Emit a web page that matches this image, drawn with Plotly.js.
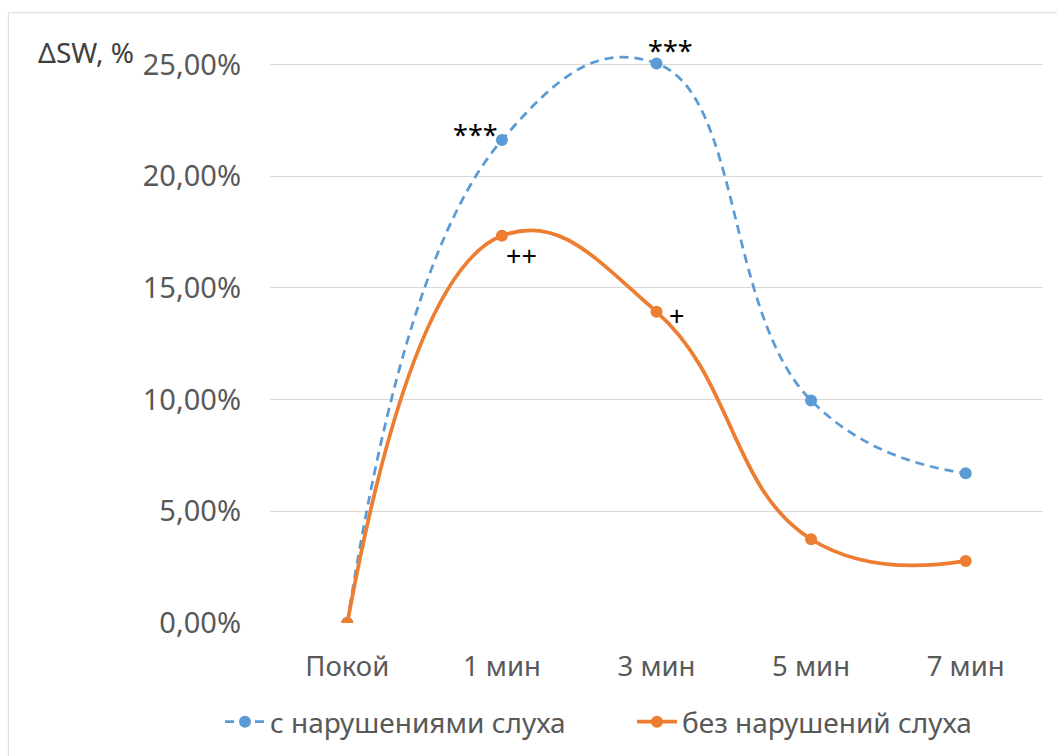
<!DOCTYPE html>
<html>
<head>
<meta charset="utf-8">
<script src="https://cdn.plot.ly/plotly-3.0.1.min.js"></script>
<style>
  html, body { margin: 0; padding: 0; background: #ffffff; }
  #chart { width: 1057px; height: 756px; }
</style>
</head>
<body>
<div id="chart"></div>
<script>
// Measurement stages
var stages = ["Покой", "1 мин", "3 мин", "5 мин", "7 мин"];

// ΔSW relative change (fractions) per group
var withImpairment = [0.0, 0.2162, 0.2505, 0.0996, 0.0670];
var withoutImpairment = [0.0, 0.1733, 0.1393, 0.0375, 0.0278];

var seriesNames = ["с нарушениями слуха", "без нарушений слуха"];

// Significance marks: [stage index, value, text]
var marksImpaired = [[1, withImpairment[1], "***"], [2, withImpairment[2], "***"]];
var marksNormal = [[1, withoutImpairment[1], "++"], [2, withoutImpairment[2], "+"]];

var blue = "#5B9BD5";
var orange = "#ED7D31";
var textGray = "#595959";
var fontFamily = "Noto Sans, Open Sans, sans-serif";

var traces = [
  {
    x: stages, y: withImpairment, name: seriesNames[0], legend: "legend",
    type: "scatter", mode: "lines+markers",
    line: { color: blue, width: 2.75, dash: "9px,6px", shape: "spline", smoothing: 1.3 },
    marker: { color: blue, size: 12 }
  },
  {
    x: stages, y: withoutImpairment, name: seriesNames[1], legend: "legend2",
    type: "scatter", mode: "lines+markers",
    line: { color: orange, width: 3.75, shape: "spline", smoothing: 1.3 },
    marker: { color: orange, size: 12 }
  }
];

var markFont = { family: fontFamily, size: 27, color: "#000000" };
var annotations = [];
marksImpaired.forEach(function (m, i) {
  annotations.push({
    x: stages[m[0]], y: m[1], xref: "x", yref: "y", text: m[2], showarrow: false,
    font: markFont, xshift: i === 0 ? -26 : 14, yshift: i === 0 ? 6 : 13
  });
});
marksNormal.forEach(function (m, i) {
  annotations.push({
    x: stages[m[0]], y: m[1], xref: "x", yref: "y", text: m[2], showarrow: false,
    font: markFont, xshift: i === 0 ? 20 : 20, yshift: i === 0 ? -20 : -4
  });
});

var plotW = 1057 - 269.5 - 13.5, plotH = 756 - 30.7 - 133;
// Axis caption placed above the tick labels
annotations.push({
  x: (35 - 269.5) / plotW, y: (623 - 52) / plotH, xref: "paper", yref: "paper",
  xanchor: "left", yanchor: "middle", text: "ΔSW, %", showarrow: false,
  font: { family: fontFamily, size: 28, color: "#404040" }
});

function legendAt(px) {
  return {
    orientation: "h", x: px / 1057, xanchor: "left", xref: "container",
    y: 0.045, yanchor: "middle", yref: "container",
    font: { family: fontFamily, size: 28, color: textGray },
    itemwidth: 40, bgcolor: "rgba(0,0,0,0)"
  };
}

var layout = {
  width: 1057, height: 756,
  margin: { l: 269.5, r: 13.5, t: 30.7, b: 133 },
  paper_bgcolor: "#ffffff", plot_bgcolor: "#ffffff",
  separators: ", ",
  font: { family: fontFamily, size: 28, color: textGray },
  showlegend: true,
  legend: legendAt(220),
  legend2: legendAt(632),
  xaxis: {
    type: "category", range: [-0.5, 4.5], showgrid: false, zeroline: false,
    showline: false, ticks: "", ticklabelstandoff: 24,
    tickfont: { family: fontFamily, size: 27.5, color: textGray }
  },
  yaxis: {
    range: [0, 0.265], tickvals: [0, 0.05, 0.10, 0.15, 0.20, 0.25],
    tickformat: ".2%", showgrid: true, gridcolor: "#d9d9d9", gridwidth: 1,
    zeroline: false, showline: false, ticks: "", ticklabelstandoff: 28,
    tickfont: { family: fontFamily, size: 29, color: textGray }
  },
  annotations: annotations,
  shapes: [{
    type: "rect", xref: "paper", yref: "paper",
    x0: -0.3385, x1: 1.05, y0: -0.24, y1: 1.0307,
    line: { color: "#d9d9d9", width: 1 }, fillcolor: "rgba(0,0,0,0)", layer: "below"
  }]
};

Plotly.newPlot("chart", traces, layout, { displayModeBar: false, staticPlot: true });
</script>
</body>
</html>
